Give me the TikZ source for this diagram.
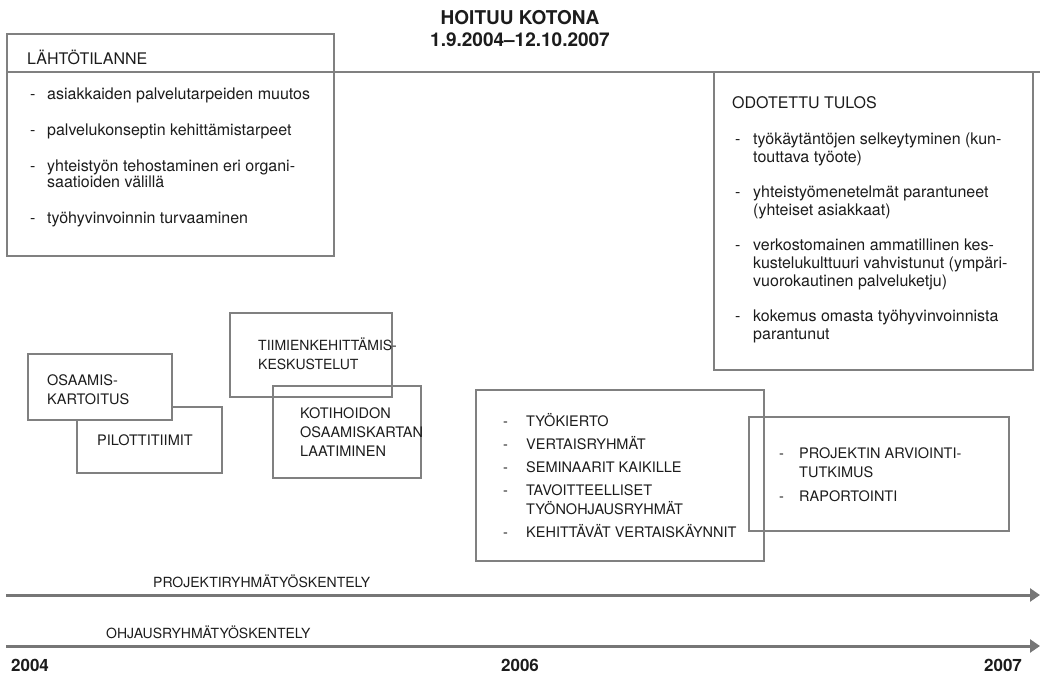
\documentclass[tikz,border=0pt]{standalone}
\usepackage{fontspec}
\setmainfont{TeX Gyre Heros}
\usetikzlibrary{arrows.meta}
\definecolor{boxgray}{RGB}{128,128,128}
\definecolor{linegray}{RGB}{118,118,118}
\definecolor{textgray}{RGB}{28,28,28}
\newcommand{\linestack}[1]{\begin{tabular}[t]{@{}l@{}}#1\end{tabular}}
\newcommand{\dashlist}[2]{\begin{tabular}[t]{@{}p{#1}@{}l@{}}#2\end{tabular}}
\tikzset{
  frame/.style={draw=boxgray,line width=1.2pt},
  bodytext/.style={font=\fontsize{16}{16.5}\selectfont,text=textgray,anchor=base west,inner sep=0pt},
  capstext/.style={font=\fontsize{14.5}{19}\selectfont,text=textgray,anchor=base west,inner sep=0pt},
  titletext/.style={font=\fontsize{19}{22}\selectfont\bfseries,text=textgray,anchor=base,inner sep=0pt},
  yeartext/.style={font=\fontsize{17}{20}\selectfont\bfseries,text=textgray,anchor=base,inner sep=0pt},
  timeline/.style={draw=linegray,line width=3pt,-{Triangle[length=10pt,width=13pt]}}
}

\begin{document}
\begin{tikzpicture}[x=1pt,y=-1pt]
  \useasboundingbox (0,0) rectangle (1040,676);
  % title
  \node[titletext] (title) at (520,25) {HOITUU KOTONA};
  \node[titletext] (dates) at (520,47) {1.9.2004--12.10.2007};
  % start situation
  \draw[frame] (7,34) rectangle (334,256);
  \draw[frame,line width=1.6pt] (7,72) -- (1040,72);
  \node[bodytext] (lahto) at (27,65) {LÄHTÖTILANNE};
  \node[bodytext] (lahtolist) at (30,100) {\dashlist{17pt}{
    - & asiakkaiden palvelutarpeiden muutos\\[19pt]
    - & palvelukonseptin kehittämistarpeet\\[19pt]
    - & yhteistyön tehostaminen eri organi-\\
      & saatioiden välillä\\[19pt]
    - & työhyvinvoinnin turvaaminen}};
  % expected result
  \draw[frame] (714,72) rectangle (1033,370);
  \node[bodytext] (tulos) at (732,109) {ODOTETTU TULOS};
  \node[bodytext,font=\fontsize{16}{18}\selectfont] (tuloslist) at (735,145) {\dashlist{18pt}{
    - & työkäytäntöjen selkeytyminen (kun-\\
      & touttava työote)\\[17pt]
    - & yhteistyömenetelmät parantuneet\\
      & (yhteiset asiakkaat)\\[17pt]
    - & verkostomainen ammatillinen kes-\\
      & kustelukulttuuri vahvistunut (ympäri-\\
      & vuorokautinen palveluketju)\\[17pt]
    - & kokemus omasta työhyvinvoinnista\\
      & parantunut}};
  % early phase boxes
  \draw[frame] (77,407) rectangle (222,473);
  \filldraw[frame,fill=white] (28,354) rectangle (172,420);
  \node[capstext] (osaamis) at (47,385) {\linestack{OSAAMIS-\\KARTOITUS}};
  \node[capstext] (pilotti) at (97,445) {PILOTTITIIMIT};
  \draw[frame] (230,313) rectangle (392,397);
  \draw[frame] (273,386) rectangle (421,478);
  \node[capstext,font=\fontsize{14}{19}\selectfont] (tiimi) at (258,350) {\linestack{TIIMIENKEHITTÄMIS-\\KESKUSTELUT}};
  \node[capstext] (kotihoito) at (300,418) {\linestack{KOTIHOIDON\\OSAAMISKARTAN\\LAATIMINEN}};
  % later phase boxes
  \draw[frame] (476,390) rectangle (764,561);
  \draw[frame] (749,417) rectangle (1009,531);
  \node[capstext] (menetelmat) at (503,426) {\dashlist{23pt}{
    - & TYÖKIERTO\\[4pt]
    - & VERTAISRYHMÄT\\[4pt]
    - & SEMINAARIT KAIKILLE\\[4pt]
    - & TAVOITTEELLISET\\
      & TYÖNOHJAUSRYHMÄT\\[4pt]
    - & KEHITTÄVÄT VERTAISKÄYNNIT}};
  \node[capstext] (arviointi) at (779,458) {\dashlist{20pt}{
    - & PROJEKTIN ARVIOINTI-\\
      & TUTKIMUS\\[5pt]
    - & RAPORTOINTI}};
  % timelines
  \coordinate (proj start) at (6,595);
  \coordinate (proj end) at (1040,595);
  \coordinate (ohj start) at (6,646);
  \coordinate (ohj end) at (1040,646);
  \draw[timeline] (proj start) -- (proj end);
  \draw[timeline] (ohj start) -- (ohj end);
  \node[capstext,font=\fontsize{14}{19}\selectfont] (projekti) at (153,587) {PROJEKTIRYHMÄTYÖSKENTELY};
  \node[capstext,font=\fontsize{14}{19}\selectfont] (ohjaus) at (106,638) {OHJAUSRYHMÄTYÖSKENTELY};
  % years
  \node[yeartext] (y2004) at (30,671) {2004};
  \node[yeartext] (y2006) at (520,671) {2006};
  \node[yeartext] (y2007) at (1003,671) {2007};
\end{tikzpicture}
\end{document}
